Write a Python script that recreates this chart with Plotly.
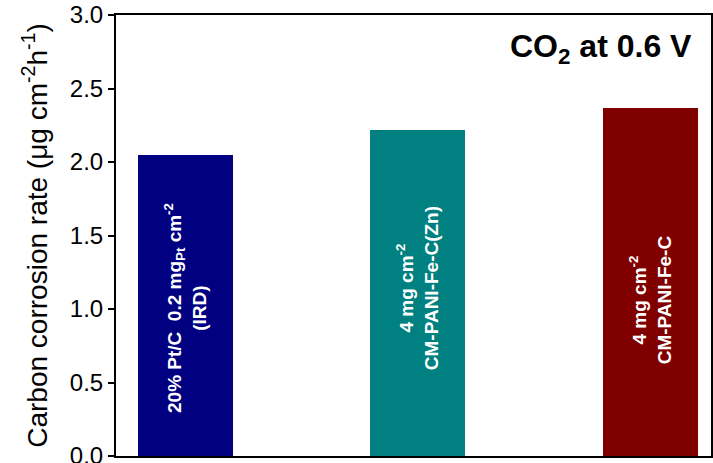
import plotly.graph_objects as go

categories = ["Pt/C (IRD)", "CM-PANI-Fe-C(Zn)", "CM-PANI-Fe-C"]
values = [2.05, 2.22, 2.37]
colors = ["#000080", "#008080", "#800000"]
bar_labels = [
    "20% Pt/C  0.2 mg<sub>Pt</sub> cm<sup>-2</sup><br>(IRD)",
    "4 mg cm<sup>-2</sup><br>CM-PANI-Fe-C(Zn)",
    "4 mg cm<sup>-2</sup><br>CM-PANI-Fe-C",
]
label_y = [1.01, 1.14, 1.06]
y_ticks = [0.0, 0.5, 1.0, 1.5, 2.0, 2.5, 3.0]

FONT = "Liberation Sans, Arial, sans-serif"

fig = go.Figure()
fig.add_trace(go.Bar(
    x=list(range(len(categories))),
    y=values,
    marker=dict(color=colors, line=dict(width=0)),
    width=0.41,
    hoverinfo="y",
))

for i, (lab, ly) in enumerate(zip(bar_labels, label_y)):
    fig.add_annotation(
        x=i, y=ly, xref="x", yref="y",
        text=lab, textangle=-90, showarrow=False,
        font=dict(family=FONT, size=19, color="white", weight="bold"),
        align="center",
    )

fig.add_annotation(
    x=0.972, y=0.925, xref="paper", yref="paper",
    xanchor="right", yanchor="middle",
    text="<b>CO<sub>2</sub> at 0.6 V</b>", showarrow=False,
    font=dict(family=FONT, size=32, color="black"),
)

fig.update_layout(
    width=713, height=463,
    margin=dict(l=116, r=2, t=15, b=7),
    paper_bgcolor="white", plot_bgcolor="white",
    showlegend=False,
    font=dict(family=FONT, color="black"),
    bargap=0,
)
fig.update_xaxes(
    range=[-0.299, 2.262],
    showticklabels=False, ticks="",
    showline=True, linecolor="black", linewidth=2, mirror=True,
    showgrid=False, zeroline=False,
)
fig.update_yaxes(
    range=[0, 3], tickvals=y_ticks, tickformat=".1f",
    ticks="outside", ticklen=6, tickwidth=1.5, tickcolor="black",
    showline=True, linecolor="black", linewidth=2, mirror=True,
    showgrid=False, zeroline=False,
    ticklabeloverflow="allow",
    tickfont=dict(family=FONT, size=24, color="black"),
    title=dict(text="Carbon corrosion rate (μg cm<sup>-2</sup>h<sup>-1</sup>)",
               font=dict(family=FONT, size=28, color="black"), standoff=14),
    automargin=False,
)

fig.write_html("out.html", config={"displayModeBar": False},
               post_script="document.body.style.margin='0';")
